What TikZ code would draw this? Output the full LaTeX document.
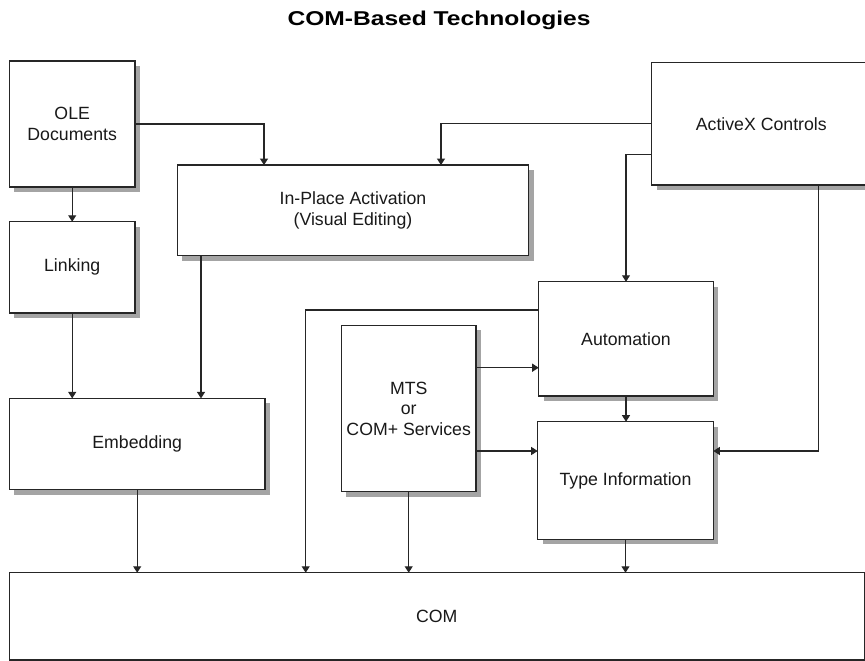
\documentclass[tikz,border=0pt]{standalone}
\usepackage{fontspec}
\setmainfont{Liberation Sans}
\usetikzlibrary{arrows.meta,shadows}
\definecolor{shadowgray}{HTML}{A4A4A4}
\definecolor{linegray}{HTML}{262626}
\begin{document}
\begin{tikzpicture}[x=1pt,y=-1pt,
  box/.style={draw=linegray, line width=1.2pt, fill=white, inner sep=0pt, outer sep=0pt,
    align=center, font=\fontsize{17.7}{20.5}\selectfont, text=black!90,
    drop shadow={shadow xshift=5pt, shadow yshift=-5pt, fill=shadowgray, opacity=1}},
  flatbox/.style={draw=linegray, line width=1.2pt, fill=white, inner sep=0pt, outer sep=0pt,
    align=center, font=\fontsize{17.7}{20.5}\selectfont, text=black!90},
  arr/.style={draw=linegray, line width=1.1pt, -{Triangle[length=6.5pt,width=8pt]}},
  ttl/.style={font=\fontsize{20}{24}\selectfont\bfseries, inner sep=0pt}]
\useasboundingbox[fill=white] (0,0) rectangle (865,661);

\node[ttl] (title) at (439,20) {\scalebox{1.23}[1]{COM-Based Technologies}};

\node[box, minimum width=125.7pt, minimum height=126pt] (ole) at (72.2,124) {OLE\\Documents};
\node[box, minimum width=125.7pt, minimum height=91.3pt] (link) at (72.2,267.4) {Linking};
\node[box, minimum width=255.7pt, minimum height=91.2pt] (emb) at (137.2,444) {Embedding};
\node[box, minimum width=351.4pt, minimum height=90.7pt] (inplace) at (353,210.4) {In-Place Activation\\(Visual Editing)};
\node[box, minimum width=219.3pt, minimum height=122.7pt] (activex) at (761.3,123.7) {ActiveX Controls};
\node[box, minimum width=174.6pt, minimum height=114.3pt] (auto) at (626,338.9) {Automation};
\node[box, minimum width=134.7pt, minimum height=166.4pt] (mts) at (408.7,408.5) {MTS\\or\\COM+ Services};
\node[box, minimum width=175.6pt, minimum height=117.6pt] (type) at (625.5,480.5) {Type Information};
\node[flatbox, minimum width=855pt, minimum height=87.3pt] (com) at (436.8,616.4) {COM};

% helper coordinates
\coordinate (xole) at (264,0);
\coordinate (xax) at (441,0);
\coordinate (xip) at (201,0);
\coordinate (xaut) at (305.7,0);
\coordinate (xaxr) at (818.3,0);
\coordinate (yax2) at (0,154.3);
\coordinate (yaut) at (0,310);
\coordinate (ym1) at (0,367.7);
\coordinate (ym2) at (0,451);

\draw[arr] (ole.south) -- (link.north);
\draw[arr] (ole.east) -| (xole |- inplace.north);
\draw[arr] (activex.west) -| (xax |- inplace.north);
\draw[arr] (activex.west |- yax2) -| (auto.north);
\draw[arr] (xaxr |- activex.south) |- (type.east |- ym2);
\draw[arr] (link.south) -- (link.south |- emb.north);
\draw[arr] (xip |- inplace.south) -- (xip |- emb.north);
\draw[arr] (emb.south) -- (emb.south |- com.north);
\draw[arr] (auto.west |- yaut) -| (xaut |- com.north);
\draw[arr] (mts.east |- ym1) -- (auto.west |- ym1);
\draw[arr] (mts.east |- ym2) -- (type.west |- ym2);
\draw[arr] (auto.south) -- (auto.south |- type.north);
\draw[arr] (mts.south) -- (mts.south |- com.north);
\draw[arr] (type.south) -- (type.south |- com.north);
\end{tikzpicture}
\end{document}
